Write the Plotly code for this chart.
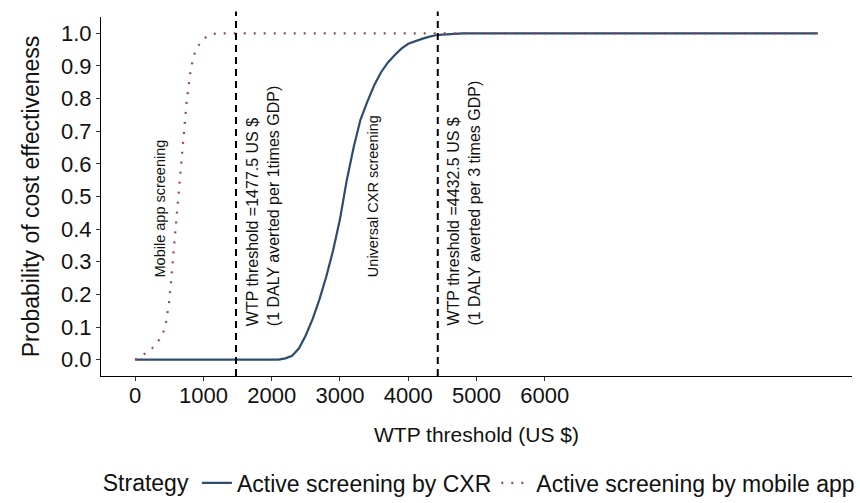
import plotly.graph_objects as go

# ---- data ----
cxr_x = [0, 500, 1000, 1500, 2000, 2100, 2200, 2300, 2400, 2500, 2600, 2700, 2800, 2900,
         3000, 3100, 3200, 3300, 3400, 3500, 3600, 3700, 3800, 3900, 4000, 4100, 4200,
         4300, 4400, 4500, 4600, 4700, 4800, 5000, 6000, 7000, 8000, 9000, 10000]
cxr_y = [0.0, 0.0, 0.0, 0.0, 0.0, 0.0, 0.004, 0.012, 0.035, 0.075, 0.125, 0.185, 0.255, 0.335,
         0.43, 0.55, 0.65, 0.735, 0.79, 0.84, 0.88, 0.91, 0.933, 0.953, 0.968, 0.976, 0.983,
         0.989, 0.994, 0.996, 0.998, 0.999, 1.0, 1.0, 1.0, 1.0, 1.0, 1.0, 1.0]

app_x = [0, 100, 200, 300, 400, 450, 500, 550, 600, 650, 700, 750, 800, 850, 900, 950,
         1000, 1050, 1100, 1200, 1300, 2000, 3000, 4000, 5000, 6000, 7000, 8000, 9000, 10000]
app_y = [0.0, 0.012, 0.026, 0.045, 0.075, 0.11, 0.18, 0.3, 0.42, 0.54, 0.67, 0.78, 0.87, 0.925,
         0.955, 0.97, 0.982, 0.99, 0.996, 1.0, 1.0, 1.0, 1.0, 1.0, 1.0, 1.0, 1.0, 1.0, 1.0, 1.0]

x_ticks = [0, 1000, 2000, 3000, 4000, 5000, 6000]
y_ticks = [0.0, 0.1, 0.2, 0.3, 0.4, 0.5, 0.6, 0.7, 0.8, 0.9, 1.0]

thresholds = [1477.5, 4432.5]
# (text, x position, y start, font size)
labels = [
    ("Mobile app screening", 370, 0.25, 14.5),
    ("Universal CXR screening", 3485, 0.25, 14.5),
    ("WTP threshold =1477.5 US $<br>(1 DALY averted per 1times GDP)", 1874, 0.1, 16),
    ("WTP threshold =4432.5 US $<br>(1 DALY averted per 3 times GDP)", 4817, 0.1, 16),
]

FONT = "Liberation Sans, Arial, sans-serif"
TXT = "#111111"
CXR_COLOR = "#2D4D6E"
APP_COLOR = "#94475E"

fig = go.Figure()
fig.add_trace(go.Scatter(x=cxr_x, y=cxr_y, mode="lines", name="Active screening by CXR",
                         line=dict(color=CXR_COLOR, width=2.2)))
fig.add_trace(go.Scatter(x=app_x, y=app_y, mode="lines", name="Active screening by mobile app",
                         line=dict(color=APP_COLOR, width=2.2, dash="2px,8px")))

for t in thresholds:
    fig.add_shape(type="line", xref="x", yref="paper", x0=t, x1=t, y0=0, y1=1.015,
                  line=dict(color="black", width=2, dash="7px,5px"))

for text, xv, yv, fs in labels:
    fig.add_annotation(x=xv, y=yv, xref="x", yref="y", text=text, textangle=-90,
                       showarrow=False, xanchor="center", yanchor="bottom",
                       font=dict(family=FONT, size=fs, color=TXT),
                       align="left", borderpad=0)

fig.update_layout(
    width=860, height=503,
    margin=dict(l=101, r=8, t=17, b=127),
    paper_bgcolor="white", plot_bgcolor="white",
    font=dict(family=FONT, color=TXT),
    showlegend=True,
    legend=dict(orientation="h", x=0.505, xanchor="center", xref="paper",
                y=0.04, yref="container", yanchor="middle",
                title=dict(text="Strategy", font=dict(size=23, family=FONT, color=TXT)),
                font=dict(size=23, family=FONT, color=TXT),
                itemwidth=30, tracegroupgap=0),
)
fig.update_xaxes(range=[-500, 10500], tickmode="array", tickvals=x_ticks,
                 ticktext=[str(v) for v in x_ticks],
                 showline=True, linecolor="black", linewidth=1.2, mirror=False,
                 ticks="outside", ticklen=4, tickcolor="#333", tickwidth=1,
                 ticklabelstandoff=-5,
                 showgrid=False, zeroline=False,
                 tickfont=dict(size=22, family=FONT, color=TXT),
                 title=dict(text="WTP threshold (US $)", standoff=20,
                            font=dict(size=21, family=FONT, color=TXT)))
fig.update_yaxes(range=[-0.05, 1.05], tickmode="array", tickvals=y_ticks,
                 ticktext=[f"{v:.1f}" for v in y_ticks],
                 showline=True, linecolor="black", linewidth=1.2,
                 ticks="outside", ticklen=4, tickcolor="#333", tickwidth=1,
                 showgrid=False, zeroline=False,
                 tickfont=dict(size=22, family=FONT, color=TXT),
                 title=dict(text="Probability of cost effectiveness", standoff=14,
                            font=dict(size=23, family=FONT, color=TXT)))

fig.write_html("out.html")
